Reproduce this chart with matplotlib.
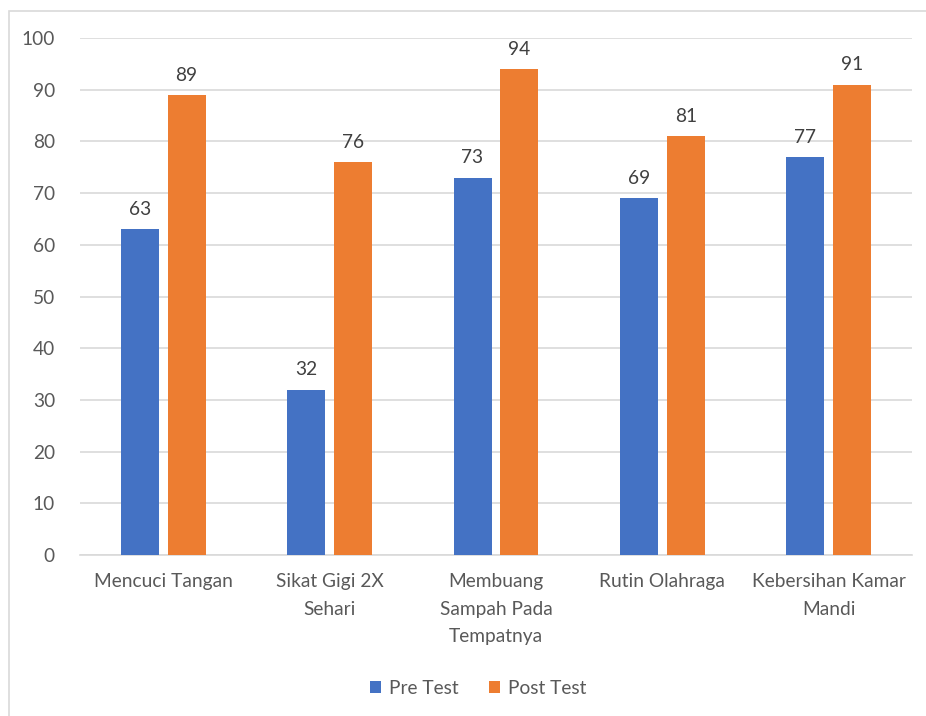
import matplotlib
matplotlib.use("Agg")
import matplotlib.pyplot as plt
from matplotlib.patches import Rectangle
import numpy as np

categories = ["Mencuci Tangan", "Sikat Gigi 2X\nSehari", "Membuang\nSampah Pada\nTempatnya",
              "Rutin Olahraga", "Kebersihan Kamar\nMandi"]
pre_test = [63, 32, 73, 69, 77]
post_test = [89, 76, 94, 81, 91]
series_names = ["Pre Test", "Post Test"]
yticks = [0, 10, 20, 30, 40, 50, 60, 70, 80, 90, 100]

BLUE = "#4472C4"
ORANGE = "#ED7D31"
TXT = "#595959"
GRID = "#D9D9D9"
FS = 13.8

plt.rcParams['font.family'] = ['Lato', 'DejaVu Sans']

fig = plt.figure(figsize=(9.26, 7.16), dpi=100)
fig.patch.set_facecolor("white")
# chart frame
fig.patches.append(Rectangle((9/926, -0.05), 1.1, 1 - 11/716 + 0.05, transform=fig.transFigure,
                             fill=False, edgecolor="#D9D9D9", linewidth=1.2))

ax = fig.add_axes([80/926, 1 - 555/716, (912 - 80)/926, (555 - 38)/716])
x = np.arange(len(categories))
w = 0.228
off = 0.141
b1 = ax.bar(x - off, pre_test, w, color=BLUE, label=series_names[0], zorder=3)
b2 = ax.bar(x + off, post_test, w, color=ORANGE, label=series_names[1], zorder=3)

for bars, vals in ((b1, pre_test), (b2, post_test)):
    for r, v in zip(bars, vals):
        ax.annotate(str(v), (r.get_x() + r.get_width() / 2, v), xytext=(0, 8),
                    textcoords="offset points", ha="center", va="bottom",
                    fontsize=FS, color="#404040")

ax.set_xlim(-0.5, 4.5)
ax.set_ylim(0, 100)
ax.set_yticks(yticks)
ax.set_yticklabels([str(t) for t in yticks], fontsize=FS, color=TXT)
ax.set_xticks(x)
ax.set_xticklabels(categories, fontsize=FS, color=TXT, linespacing=1.75)
ax.tick_params(axis="both", length=0)
ax.tick_params(axis="x", pad=13)
ax.tick_params(axis="y", pad=18)
ax.grid(axis="y", color=GRID, linewidth=1.2, zorder=0)
for s in ["top", "right", "left"]:
    ax.spines[s].set_visible(False)
ax.spines["bottom"].set_color(GRID)
ax.spines["bottom"].set_linewidth(1.2)
ax.set_facecolor("white")

leg = fig.legend(handles=[b1, b2], labels=series_names, loc="center",
                 bbox_to_anchor=(478/926, 1 - 688/716), ncol=2, frameon=False,
                 fontsize=FS, handlelength=0.6, handleheight=0.6, handletextpad=0.4,
                 columnspacing=1.6)
for t in leg.get_texts():
    t.set_color(TXT)

fig.savefig("out.png", dpi=100, facecolor="white")
